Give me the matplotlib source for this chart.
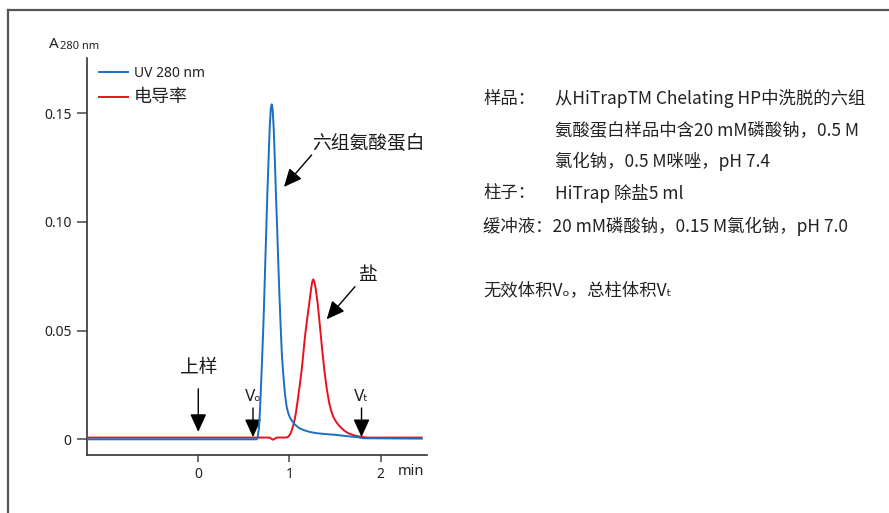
import matplotlib
matplotlib.use("Agg")
import matplotlib.pyplot as plt
from matplotlib.lines import Line2D

plt.rcParams['font.family'] = ['Noto Sans CJK SC', 'DejaVu Sans']

# ---------------- data ----------------
uv_time = [-1.22, 0.60, 0.640, 0.650, 0.665, 0.675, 0.684, 0.698, 0.713, 0.724,
           0.735, 0.746, 0.757, 0.770, 0.783, 0.795, 0.805, 0.815, 0.827, 0.840,
           0.852, 0.865, 0.877, 0.890, 0.904, 0.918, 0.932, 0.950, 0.969, 0.987,
           1.005, 1.030, 1.060, 1.100, 1.151, 1.220, 1.298, 1.400, 1.518, 1.620,
           1.737, 1.810, 2.450]
uv_abs = [0.0, 0.0, 0.0, 0.0005, 0.0050, 0.0120, 0.0204, 0.0350, 0.0512, 0.0660,
          0.0817, 0.0970, 0.1124, 0.1280, 0.1432, 0.1520, 0.1541, 0.1520, 0.1432, 0.1280,
          0.1124, 0.0970, 0.0817, 0.0660, 0.0512, 0.0380, 0.0300, 0.0210, 0.0150, 0.0120,
          0.0100, 0.0083, 0.0068, 0.0053, 0.0043, 0.0034, 0.0028, 0.0024, 0.0020, 0.0015,
          0.0010, 0.0005, 0.0003]

cond_time = [-1.22, 0.60, 0.78, 0.82, 0.86, 0.95, 0.975, 0.987, 1.000, 1.013,
             1.030, 1.049, 1.068, 1.086, 1.110, 1.134, 1.152, 1.170, 1.193, 1.217,
             1.240, 1.250, 1.261, 1.272, 1.285, 1.309, 1.327, 1.345, 1.363, 1.382,
             1.408, 1.436, 1.458, 1.480, 1.515, 1.554, 1.600, 1.645, 1.710, 1.773,
             1.850, 2.450]
cond_val = [0.0008, 0.0008, 0.0008, -0.0002, 0.0008, 0.0008, 0.0009, 0.0012, 0.0018, 0.0028,
            0.0048, 0.0074, 0.0115, 0.0166, 0.0240, 0.0319, 0.0395, 0.0472, 0.0550, 0.0626,
            0.0700, 0.0725, 0.0736, 0.0725, 0.0700, 0.0626, 0.0550, 0.0472, 0.0395, 0.0319,
            0.0235, 0.0166, 0.0130, 0.0104, 0.0078, 0.0058, 0.0040, 0.0028, 0.0018, 0.0012,
            0.0008, 0.0008]

y_ticks = [0, 0.05, 0.10, 0.15]
y_tick_labels = ['0', '0.05', '0.10', '0.15']
x_ticks = [0, 1, 2]
x_tick_labels = ['0', '1', '2']

legend_labels = ['UV 280 nm', '电导率']

# annotations: (label, tip_x, tip_y, tail_x, tail_y, text_x, text_y)
peak_notes = [
    ('六组氨酸蛋白', 0.940, 0.1161, 1.243, 0.1308, 1.861, 0.1363),
    ('盐', 1.408, 0.0552, 1.718, 0.0702, 1.866, 0.0756),
]
vol_marks = [
    ('上样', 0.0, 0.0034, 0.0232, 0.0329),
    ('Vₒ', 0.60, 0.0010, 0.0144, 0.0195),
    ('Vₜ', 1.79, 0.0010, 0.0144, 0.0195),
]

info_lines = [
    (483, 99, '样品：'),
    (555, 99, '从HiTrapTM Chelating HP中洗脱的六组'),
    (555, 130, '氨酸蛋白样品中含20 mM磷酸钠，0.5 M'),
    (555, 161, '氯化钠，0.5 M咪唑，pH 7.4'),
    (483, 193, '柱子：'),
    (555, 193, 'HiTrap 除盐5 ml'),
    (483, 226, '缓冲液：20 mM磷酸钠，0.15 M氯化钠，pH 7.0'),
    (483, 290, '无效体积Vₒ，总柱体积Vₜ'),
]

# ---------------- figure ----------------
W, H = 889, 513
fig = plt.figure(figsize=(W / 100, H / 100), dpi=100)

def fx(x):
    return x / W

def fy(y):
    return 1 - y / H

ax = fig.add_axes([fx(87), fy(455), fx(427) - fx(87), fy(58) - fy(455)])

blue = '#1a6fc0'
red = '#e8111e'
dark = '#1a1a1a'
spine_c = '#333333'

ax.plot(cond_time, cond_val, color=red, lw=1.4, label=legend_labels[1], zorder=3)
ax.plot(uv_time, uv_abs, color=blue, lw=1.4, label=legend_labels[0], zorder=4)

ax.set_xlim(-1.22, 2.508)
ax.set_ylim(-0.00722, 0.1754)

for s in ['top', 'right']:
    ax.spines[s].set_visible(False)
for s in ['left', 'bottom']:
    ax.spines[s].set_color(spine_c)
    ax.spines[s].set_linewidth(1.2)

ax.set_yticks(y_ticks)
ax.set_yticklabels(y_tick_labels)
ax.set_xticks(x_ticks)
ax.set_xticklabels(x_tick_labels)
ax.tick_params(axis='y', direction='out', length=7, width=1.2, color='#555555',
               pad=4, labelsize=10, labelcolor='#222222')
ax.tick_params(axis='x', direction='out', length=5, width=1.2, color='#555555',
               pad=4, labelsize=10, labelcolor='#222222')
for lab in ax.get_xticklabels() + ax.get_yticklabels():
    lab.set_family(['Noto Sans', 'DejaVu Sans'])

ax.text(2.33, -0.0150, 'min', ha='center', va='center', fontsize=10.5,
        color='#222222', family=['Noto Sans', 'DejaVu Sans'])

# y label "A 280 nm"
fig.text(fx(49), fy(44), 'A', fontsize=11, color='#222222', ha='left', va='center',
         family=['Noto Sans', 'DejaVu Sans'])
fig.text(fx(60), fy(47), '280 nm', fontsize=8, color='#222222', ha='left', va='center',
         family=['Noto Sans', 'DejaVu Sans'])

# legend
h, l = ax.get_legend_handles_labels()
order = [1, 0]
leg = ax.legend([h[i] for i in order], [l[i] for i in order], loc='upper left',
                bbox_to_anchor=(fx(99), fy(66)), bbox_transform=fig.transFigure,
                frameon=False, handlelength=2.0, handletextpad=0.4,
                labelspacing=0.47, fontsize=10.5, borderaxespad=0, borderpad=0)
texts = leg.get_texts()
texts[0].set_family(['Noto Sans', 'DejaVu Sans'])
texts[0].set_fontsize(10)
texts[1].set_fontsize(13)
for t in texts:
    t.set_color('#222222')

arrow_style = '-|>,head_length=1.1,head_width=0.5'

# peak annotations
for lab, tx, ty, sx, sy, lx, ly in peak_notes:
    ax.annotate('', xy=(tx, ty), xytext=(sx, sy),
                arrowprops=dict(arrowstyle=arrow_style,
                                color='black', lw=1.0, shrinkA=0, shrinkB=0))
    ax.text(lx, ly, lab, ha='center', va='center', fontsize=13.5, color=dark)

# volume markers
for lab, x, tip, tail, ly in vol_marks:
    ax.annotate('', xy=(x, tip), xytext=(x, tail),
                arrowprops=dict(arrowstyle=arrow_style,
                                color='black', lw=1.0, shrinkA=0, shrinkB=0))
    if lab == '上样':
        ax.text(x, ly, lab, ha='center', va='center', fontsize=13.5, color=dark)
    else:
        ax.text(x, ly, lab, ha='center', va='center', fontsize=11, color='#222222',
                family=['DejaVu Sans'])

# information block
for x, y, s in info_lines:
    fig.text(fx(x), fy(y), s, ha='left', va='center', fontsize=12.5, color='#222222')

# outer border (top and left)
fig.add_artist(Line2D([fx(8), 1.0], [fy(10), fy(10)], transform=fig.transFigure,
                      color='#555555', lw=1.6))
fig.add_artist(Line2D([fx(8), fx(8)], [fy(10), 0.0], transform=fig.transFigure,
                      color='#555555', lw=1.6))

fig.savefig('out.png', dpi=100)
